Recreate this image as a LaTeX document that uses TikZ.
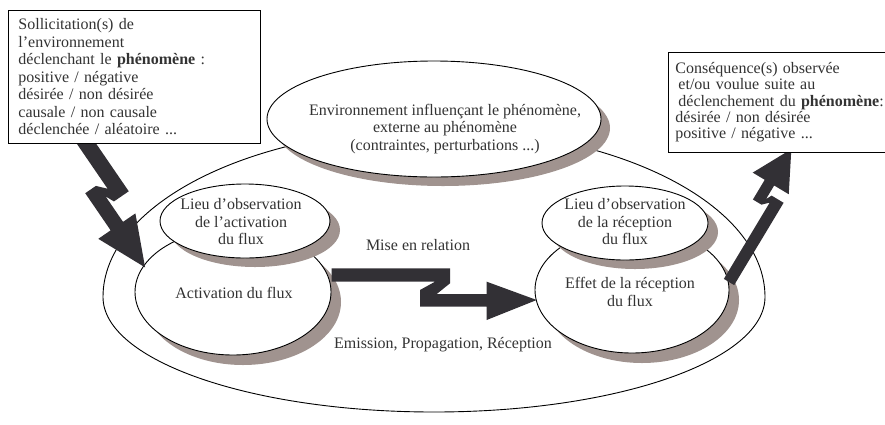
\documentclass[tikz,border=0pt]{standalone}
\usepackage{fontspec}
\setmainfont{Liberation Serif}
\usetikzlibrary{shapes.geometric}
\definecolor{shad}{HTML}{A0938F}
\definecolor{ink}{HTML}{333333}
\definecolor{arr}{HTML}{323035}
\begin{document}
\begin{tikzpicture}[x=1pt,y=1pt,
  every node/.style={text=ink, font=\fontsize{16}{17.5}\selectfont},
  ell/.style={ellipse, draw=black, fill=white, line width=0.9pt, inner sep=0pt},
  shd/.style={ellipse, fill=shad, inner sep=0pt},
  lbl/.style={align=center, inner sep=0pt},
  boxn/.style={draw=black, fill=white, line width=0.9pt, anchor=north west, align=left},
  zig/.style={fill=arr, draw=none}]
\useasboundingbox (0,0) rectangle (885,-424);
% outer environment shape
\draw[line width=0.9pt] (103,-297) arc[start angle=180,end angle=0,x radius=331,y radius=168]
  arc[start angle=0,end angle=-180,x radius=331,y radius=115];
% environment ellipse
\node[shd, minimum width=334pt, minimum height=116pt] (envS) at (443,-128) {};
\node[ell, minimum width=334pt, minimum height=116pt] (env) at (434,-119) {};
% activation
\node[shd, minimum width=196pt, minimum height=126pt] (actS) at (243,-302) {};
\node[ell, minimum width=196pt, minimum height=126pt] (act) at (233,-292) {};
% effet
\node[shd, minimum width=194pt, minimum height=126pt] (effS) at (642,-300) {};
\node[ell, minimum width=194pt, minimum height=126pt] (eff) at (632,-290) {};
% lieux
\node[shd, minimum width=170pt, minimum height=74pt] (lieuAS) at (255,-230) {};
\node[ell, minimum width=170pt, minimum height=74pt] (lieuA) at (245,-221) {};
\node[shd, minimum width=166pt, minimum height=74pt] (lieuRS) at (635,-232) {};
\node[ell, minimum width=166pt, minimum height=74pt] (lieuR) at (625,-223) {};
% texts
\node[lbl] (envT) at (445,-129) {Environnement influençant le phénomène,\\ externe au phénomène\\ (contraintes, perturbations ...)};
\node[lbl] (lieuAT) at (241,-222) {Lieu d’observation\\ de l’activation\\ du flux};
\node[lbl] (lieuRT) at (625,-222) {Lieu d’observation\\ de la réception\\ du flux};
\node[lbl] (actT) at (234,-293) {Activation du flux};
\node[lbl] (effT) at (630,-292) {Effet de la réception\\ du flux};
\node[lbl] (mise) at (418,-245) {Mise en relation};
\node[lbl] (emis) at (443,-345) {Emission, Propagation, Réception};
% middle zigzag arrow
\coordinate (m0) at (331.7,-275);
\begin{scope}[shift={(m0)}, yscale=-1]
\fill[zig] (0,-6.7) -- (118.3,-6.7) -- (118.3,8.3) -- (105,19) -- (155,19) -- (155,6.7)
  -- (205,25) -- (155,45) -- (155,31.7) -- (88.3,31.7) -- (88.3,15) -- (103.3,6.7) -- (0,6.7) -- cycle;
\end{scope}
% left zigzag arrow
\coordinate (l0) at (86,-143);
\begin{scope}[shift={(l0)}, rotate=-55.6, yscale=-1]
\fill[zig] (-12,-8) -- (64,-8) -- (64,10) -- (55,14) -- (86,14) -- (86,-1) -- (136,21.5)
  -- (86,44) -- (86,29) -- (41,29) -- (41,16) -- (50,8) -- (-12,8) -- cycle;
\end{scope}
% right zigzag arrow
\coordinate (r0) at (729,-282);
\begin{scope}[shift={(r0)}, rotate=59]
\fill[zig] (0,-6) -- (96,-6) -- (96,8) -- (90,11) -- (106,11) -- (106,-6) -- (146,15)
  -- (106,36) -- (106,22) -- (83,22) -- (83,12) -- (89,6) -- (0,6) -- cycle;
\end{scope}
% boxes
\node[boxn, inner xsep=10pt, inner ysep=6pt, text width=232pt, minimum height=133pt] (src) at (8,-10)
 {Sollicitation(s) de\\ l’environnement\\ déclenchant le \textbf{phénomène} :\\ positive / négative\\ désirée / non désirée\\ causale / non causale\\ déclenchée / aléatoire ...};
\node[boxn, inner xsep=7pt, inner ysep=6pt, text width=240pt, minimum height=100pt, font=\fontsize{16}{16.3}\selectfont] (cons) at (668,-52)
 {Conséquence(s) observée\\ \hspace*{3pt}et/ou voulue suite au\\ \hspace*{3pt}déclenchement du \textbf{phénomène}:\\ désirée / non désirée\\ positive / négative ...};
\end{tikzpicture}
\end{document}
